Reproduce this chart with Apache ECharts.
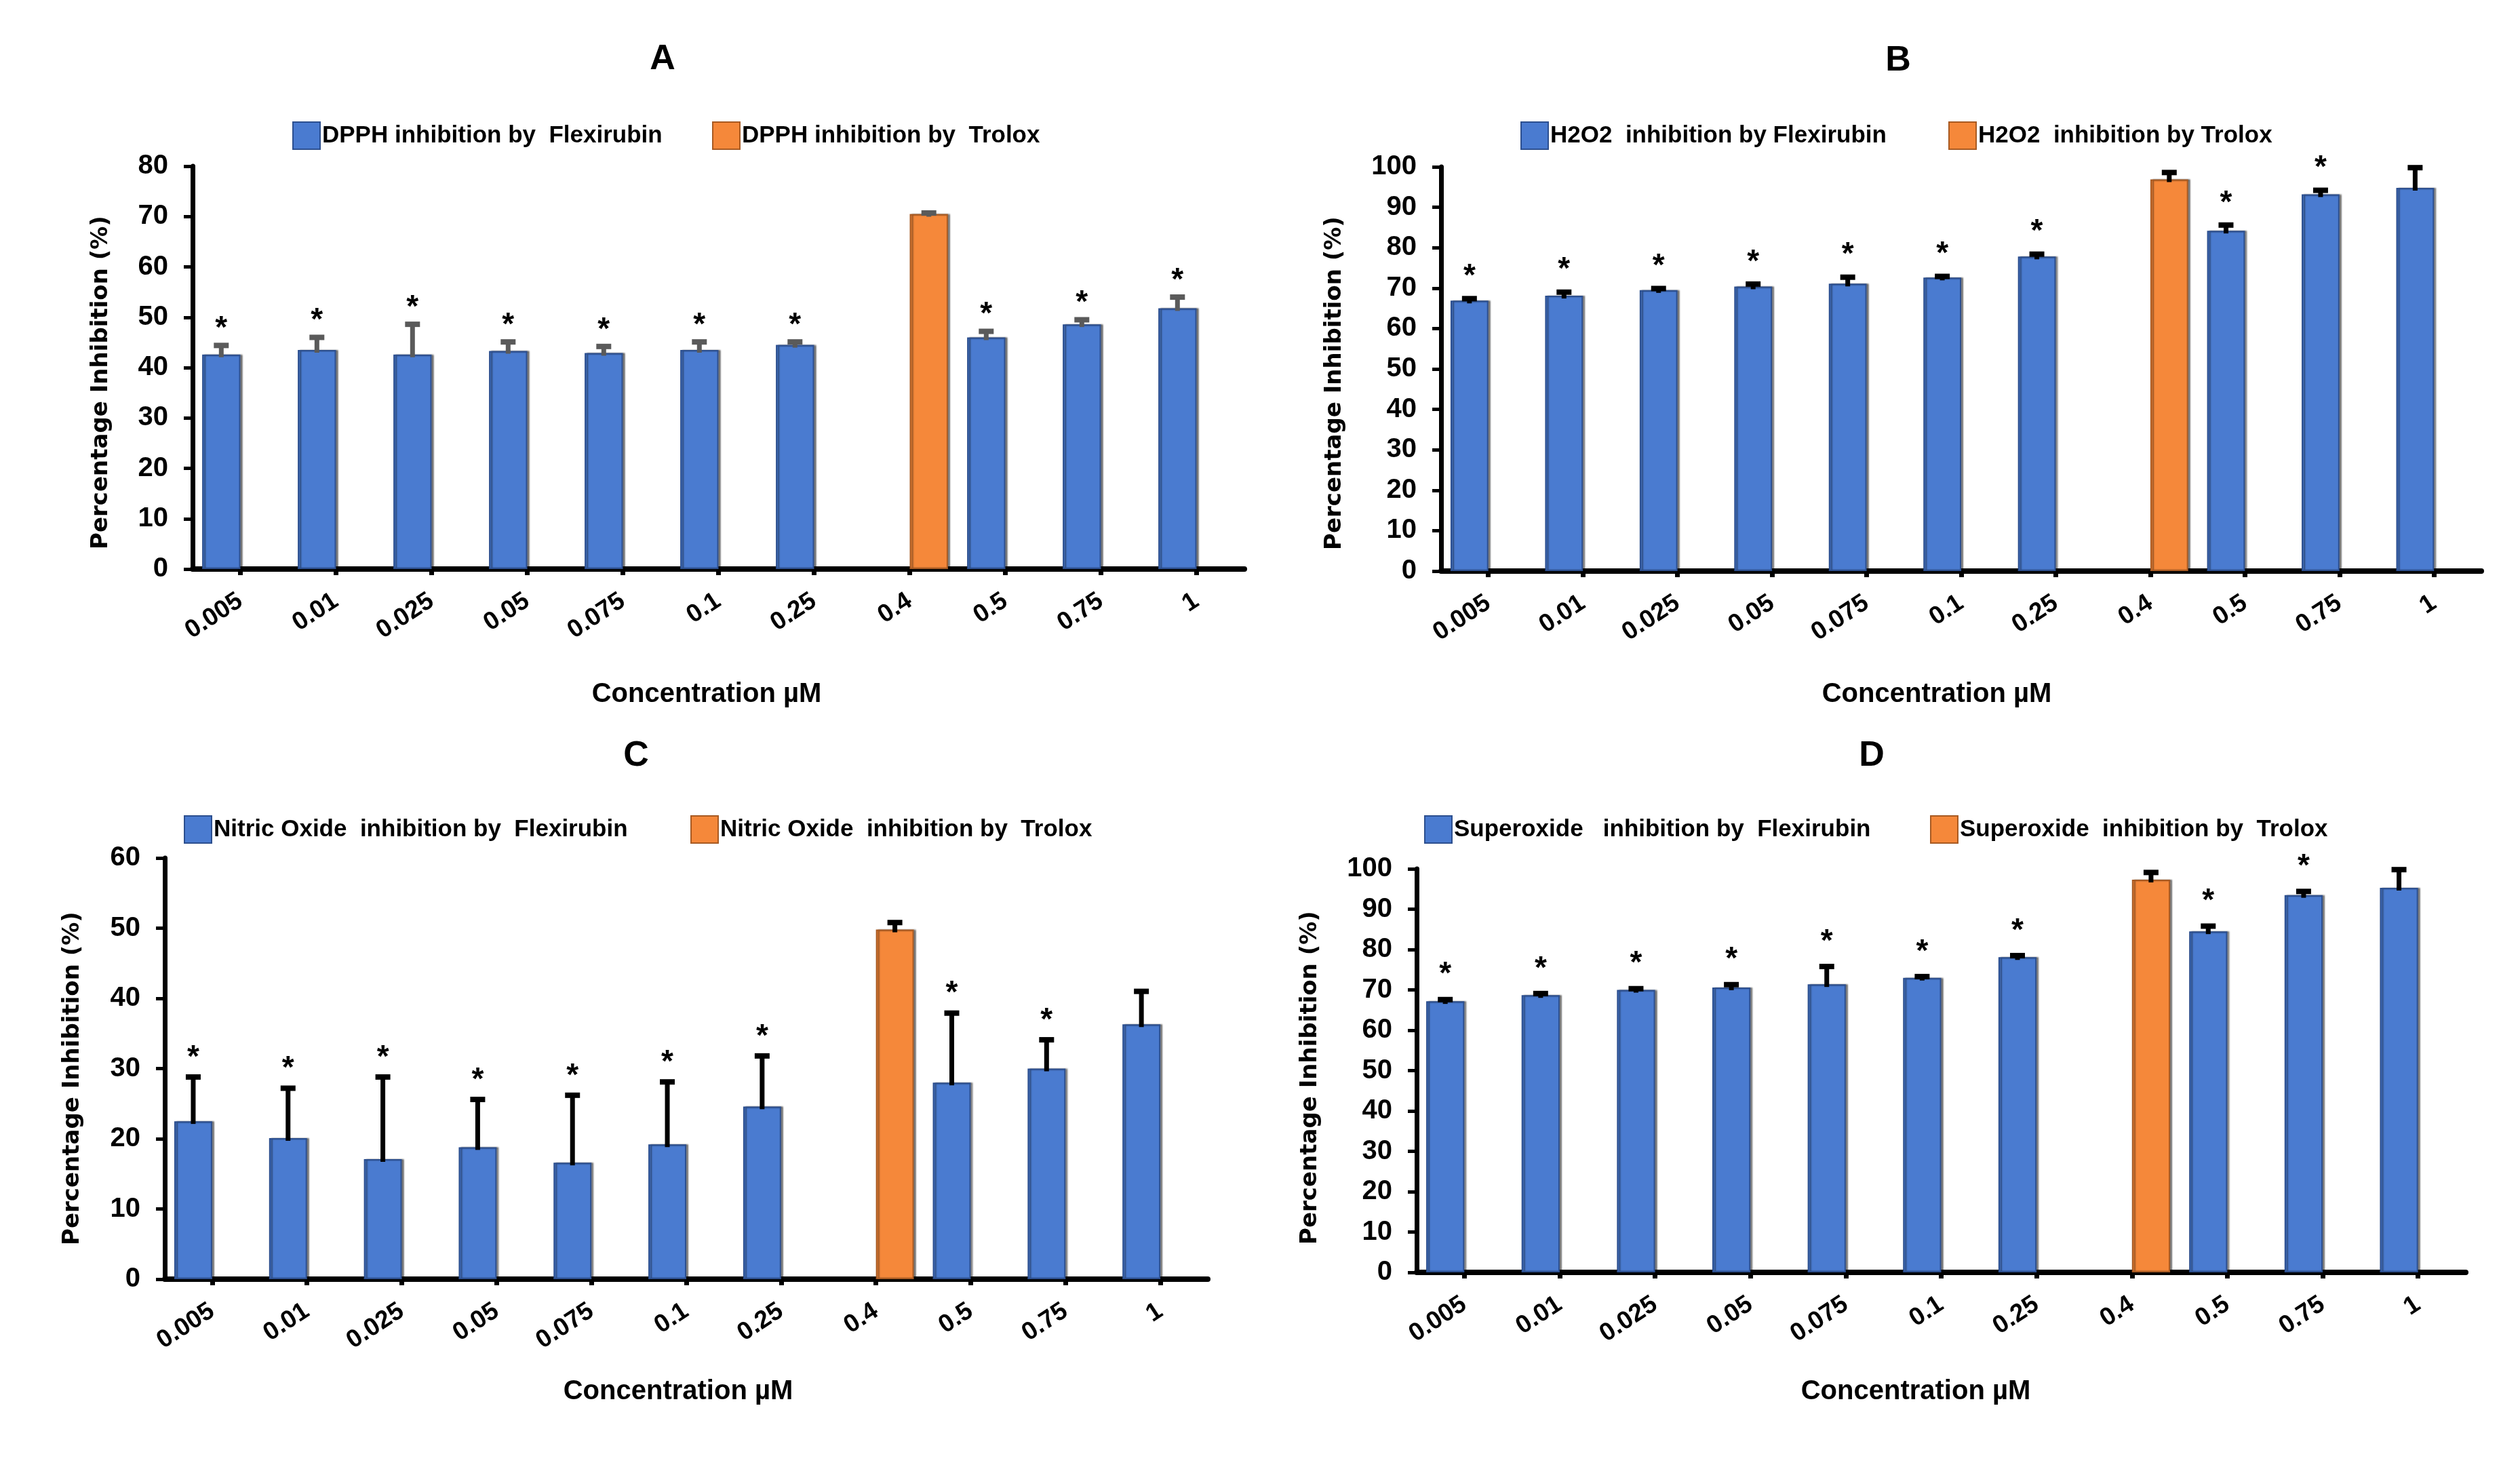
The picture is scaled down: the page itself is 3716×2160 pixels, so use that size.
<!DOCTYPE html>
<html><head><meta charset="utf-8">
<script src="https://cdn.jsdelivr.net/npm/echarts@6/dist/echarts.min.js"></script>
<style>html,body{margin:0;padding:0;background:#fff}#c{width:3716px;height:2160px}</style>
</head><body><div id="c"></div>
<script>
// ---- data ----
const categories = ['0.005','0.01','0.025','0.05','0.075','0.1','0.25','0.4','0.5','0.75','1'];

// A: DPPH
const dpphFlexirubin    = [42.6, 43.5, 42.6, 43.3, 42.9, 43.5, 44.5, null, 46.0, 48.6, 51.8];
const dpphFlexirubinErr = [1.8, 2.5, 6.0, 1.8, 1.3, 1.6, 0.6, null, 1.2, 0.9, 2.2];
const dpphTrolox        = [null, null, null, null, null, null, null, 70.5, null, null, null];
const dpphTroloxErr     = [null, null, null, null, null, null, null, 0.2, null, null, null];
const dpphSignificant   = [1, 1, 1, 1, 1, 1, 1, 0, 1, 1, 1];

// B: H2O2
const h2o2Flexirubin    = [66.9, 68.1, 69.5, 70.4, 71.1, 72.6, 77.8, null, 84.2, 93.2, 94.8];
const h2o2FlexirubinErr = [0.5, 0.9, 0.4, 0.6, 1.6, 0.3, 0.6, null, 1.4, 1.0, 5.0];
const h2o2Trolox        = [null, null, null, null, null, null, null, 96.9, null, null, null];
const h2o2TroloxErr     = [null, null, null, null, null, null, null, 1.7, null, null, null];
const h2o2Significant   = [1, 1, 1, 1, 1, 1, 1, 0, 1, 1, 0];

// C: Nitric oxide
const noFlexirubin      = [22.5, 20.1, 17.1, 18.8, 16.6, 19.2, 24.6, null, 28.0, 30.0, 36.3];
const noFlexirubinErr   = [6.3, 7.1, 11.7, 6.8, 9.6, 8.9, 7.2, null, 9.9, 4.1, 4.7];
const noTrolox          = [null, null, null, null, null, null, null, 49.8, null, null, null];
const noTroloxErr       = [null, null, null, null, null, null, null, 1.0, null, null, null];
const noSignificant     = [1, 1, 1, 1, 1, 1, 1, 0, 1, 1, 0];

// D: Superoxide
const soFlexirubin      = [67.2, 68.7, 70.0, 70.6, 71.4, 73.0, 78.1, null, 84.5, 93.5, 95.3];
const soFlexirubinErr   = [0.4, 0.4, 0.3, 0.7, 4.4, 0.3, 0.4, null, 1.3, 0.9, 4.5];
const soTrolox          = [null, null, null, null, null, null, null, 97.3, null, null, null];
const soTroloxErr       = [null, null, null, null, null, null, null, 1.8, null, null, null];
const soSignificant     = [1, 1, 1, 1, 1, 1, 1, 0, 1, 1, 0];

const yMaxes = [80, 100, 60, 100];
const yInterval = 10;
const panelTitles = ['A', 'B', 'C', 'D'];
const flexNames = ['DPPH inhibition by  Flexirubin', 'H2O2  inhibition by Flexirubin', 'Nitric Oxide  inhibition by  Flexirubin', 'Superoxide   inhibition by  Flexirubin'];
const troloxNames = ['DPPH inhibition by  Trolox', 'H2O2  inhibition by Trolox', 'Nitric Oxide  inhibition by  Trolox', 'Superoxide  inhibition by  Trolox'];
const xAxisTitle = 'Concentration µM';
const yAxisTitle = 'Percentage Inhibition (%)';

// ---- layout / style ----
const FONT = "'Liberation Sans Narrow','Liberation Sans',Arial,sans-serif";
const YFONT = "'DejaVu Sans',Verdana,sans-serif";
const BLUE = '#4a7bd0', ORANGE = '#f5883a';
const layout = [
  {grid:{left:284, width:1551, top:245, height:594}, title:[977,88], legend:[[431,199],[1050,199]], xName:[1042,1024], yName:[149,564], errColor:'#5a5a5a', star:24},
  {grid:{left:2125, width:1534, top:246, height:596}, title:[2799,90], legend:[[2242,199],[2873,199]], xName:[2856,1024], yName:[1968,565], errColor:'#000', star:32},
  {grid:{left:243, width:1538, top:1265, height:621}, title:[938,1115], legend:[[271,1222],[1018,1222]], xName:[1000,2052], yName:[107,1590], errColor:'#000', star:28},
  {grid:{left:2089, width:1547, top:1281, height:595}, title:[2760,1115], legend:[[2100,1222],[2846,1222]], xName:[2825,2052], yName:[1932,1589], errColor:'#000', star:36}
];
const panelData = [
  [dpphFlexirubin, dpphFlexirubinErr, dpphTrolox, dpphTroloxErr, dpphSignificant],
  [h2o2Flexirubin, h2o2FlexirubinErr, h2o2Trolox, h2o2TroloxErr, h2o2Significant],
  [noFlexirubin, noFlexirubinErr, noTrolox, noTroloxErr, noSignificant],
  [soFlexirubin, soFlexirubinErr, soTrolox, soTroloxErr, soSignificant]
];

function errSeries(vals, errs, sig, side, idx, color, starOff) {
  const data = [];
  vals.forEach((v, i) => { if (v != null) data.push([i, v, errs[i], sig ? sig[i] : 0]); });
  return {
    type: 'custom', xAxisIndex: idx, yAxisIndex: idx, z: 5, silent: true,
    encode: {x: 0, y: 1}, data,
    renderItem(params, api) {
      const i = api.value(0), v = api.value(1), e = api.value(2), s = api.value(3);
      const c = api.coord([i, v]);
      const cw = api.size([1, 0])[0];
      const x = c[0] + side * cw * 0.2;
      const yTop = api.coord([i, v + e])[1];
      const children = [
        {type: 'line', shape: {x1: x, y1: c[1] + 4, x2: x, y2: yTop}, style: {stroke: color, lineWidth: 7}},
        {type: 'rect', shape: {x: x - 11, y: yTop - 4, width: 22, height: 8}, style: {fill: color}}
      ];
      if (s) children.push({type: 'text', x: x, y: yTop - starOff,
        style: {text: '*', fill: '#000', font: 'bold 46px ' + FONT, align: 'center', verticalAlign: 'middle'}});
      return {type: 'group', children};
    }
  };
}

const option = {
  backgroundColor: '#fff',
  animation: false,
  grid: [], xAxis: [], yAxis: [], series: [], legend: [], graphic: []
};

layout.forEach((L, k) => {
  const [flex, flexErr, tro, troErr, sig] = panelData[k];
  option.grid.push(Object.assign({containLabel: false}, L.grid));
  option.xAxis.push({
    type: 'category', gridIndex: k, data: categories,
    axisLine: {show: true, lineStyle: {color: '#000', width: 8}},
    axisTick: {show: true, alignWithLabel: true, length: 9, lineStyle: {color: '#000', width: 7}},
    axisLabel: {interval: 0, rotate: 33, margin: 44, color: '#000', fontFamily: FONT, fontWeight: 'bold', fontSize: 37},
    splitLine: {show: false}
  });
  option.yAxis.push({
    type: 'value', gridIndex: k, min: 0, max: yMaxes[k], interval: yInterval,
    axisLine: {show: true, lineStyle: {color: '#000', width: 7}},
    axisTick: {show: true, length: 13, lineStyle: {color: '#000', width: 5}},
    axisLabel: {margin: 36, color: '#000', fontFamily: FONT, fontWeight: 'bold', fontSize: 40},
    splitLine: {show: false}
  });
  option.series.push({
    type: 'bar', name: flexNames[k], xAxisIndex: k, yAxisIndex: k, data: flex,
    barWidth: '40%', barGap: '0%',
    itemStyle: {color: BLUE, borderColor: '#2c4f8f', borderWidth: 2, shadowColor: 'rgba(0,0,0,0.45)', shadowOffsetX: 3, shadowBlur: 2}
  });
  option.series.push({
    type: 'bar', name: troloxNames[k], xAxisIndex: k, yAxisIndex: k, data: tro,
    barWidth: '40%', barGap: '0%',
    itemStyle: {color: ORANGE, borderColor: '#a85a22', borderWidth: 2, shadowColor: 'rgba(0,0,0,0.45)', shadowOffsetX: 3, shadowBlur: 2}
  });
  option.series.push(errSeries(flex, flexErr, sig, -1, k, L.errColor, L.star));
  option.series.push(errSeries(tro, troErr, null, 1, k, L.errColor, L.star));
  [flexNames[k], troloxNames[k]].forEach((nm, j) => {
    option.legend.push({
      data: [nm], left: L.legend[j][0], top: L.legend[j][1] - 20, padding: 0,
      icon: 'rect', itemWidth: 40, itemHeight: 40, selectedMode: false,
      textStyle: {color: '#000', fontFamily: FONT, fontWeight: 'bold', fontSize: 35, padding: [0, 0, 0, -2]}
    });
  });
  option.graphic.push({type: 'text', x: L.title[0], y: L.title[1],
    style: {text: panelTitles[k], fill: '#000', font: 'bold 52px ' + FONT, align: 'center', verticalAlign: 'middle'}});
  option.graphic.push({type: 'text', x: L.xName[0], y: L.xName[1],
    style: {text: xAxisTitle, fill: '#000', font: 'bold 40px ' + FONT, align: 'center', verticalAlign: 'middle'}});
  option.graphic.push({type: 'text', x: L.yName[0], y: L.yName[1], rotation: Math.PI / 2,
    style: {text: yAxisTitle, fill: '#000', font: 'bold 34px ' + YFONT, align: 'center', verticalAlign: 'middle'}});
});

const chart = echarts.init(document.getElementById('c'), null, {renderer: 'canvas'});
chart.setOption(option);
</script></body></html>
